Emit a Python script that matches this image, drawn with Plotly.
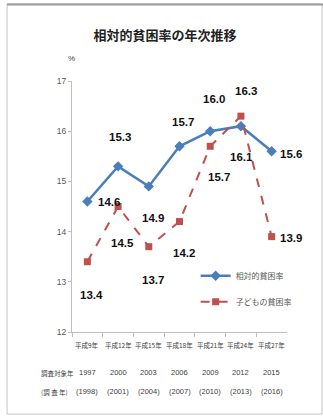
import plotly.graph_objects as go

# Survey years (Heisei era label, reference year, survey year)
era_labels = ["平成9年", "平成12年", "平成15年", "平成18年", "平成21年", "平成24年", "平成27年"]
ref_years = ["1997", "2000", "2003", "2006", "2009", "2012", "2015"]
survey_years = ["(1998)", "(2001)", "(2004)", "(2007)", "(2010)", "(2013)", "(2016)"]

# Poverty rates (%)
relative_rate = [14.6, 15.3, 14.9, 15.7, 16.0, 16.1, 15.6]
child_rate = [13.4, 14.5, 13.7, 14.2, 15.7, 16.3, 13.9]

BLUE = "#4A7EBB"
RED = "#C0504D"
NUM_FONT = "Liberation Sans, Arial, sans-serif"
JP_FONT = "Noto Sans CJK JP, sans-serif"

# Value-label offsets (px) relative to each marker: (xshift, yshift, xanchor)
rel_offsets = [(9, -1, "left"), (2, 29, "center"), (4, -32, "center"), (3, 24, "center"),
               (4, 32, "center"), (1, -31, "center"), (6, -3, "left")]
child_offsets = [(4, -33, "center"), (4, -36, "center"), (4, -33, "center"), (4, -31, "center"),
                 (9, -31, "center"), (5, 25, "center"), (6, -1, "left")]

x = list(range(len(era_labels)))

fig = go.Figure()
fig.add_trace(go.Scatter(
    x=x, y=relative_rate, name="相対的貧困率", mode="lines+markers",
    line=dict(color=BLUE, width=2.5),
    marker=dict(symbol="diamond", size=8, color=BLUE),
    legendgroup="a",
))
fig.add_trace(go.Scatter(
    x=x, y=child_rate, name="子どもの貧困率", mode="lines+markers",
    line=dict(color=RED, width=2, dash="dash"),
    marker=dict(symbol="square", size=7, color=RED),
    legendgroup="b",
))

annotations = []
for series, offsets in ((relative_rate, rel_offsets), (child_rate, child_offsets)):
    for i, (v, (dx, dy, anchor)) in enumerate(zip(series, offsets)):
        annotations.append(dict(
            x=i, y=v, xref="x", yref="y", text=f"<b>{v:.1f}</b>", showarrow=False,
            xshift=dx, yshift=dy, xanchor=anchor, yanchor="middle",
            font=dict(family=NUM_FONT, size=11.5, color="#111111"),
        ))

# Three-row category labels under the x axis
for i in x:
    annotations.append(dict(x=i, y=-0.052, xref="x", yref="paper", text=era_labels[i],
                            showarrow=False, yanchor="middle",
                            font=dict(family=JP_FONT, size=6.5, color="#404040")))
    annotations.append(dict(x=i, y=-0.163, xref="x", yref="paper", text=ref_years[i],
                            showarrow=False, yanchor="middle",
                            font=dict(family=NUM_FONT, size=7.5, color="#404040")))
    annotations.append(dict(x=i, y=-0.239, xref="x", yref="paper", text=survey_years[i],
                            showarrow=False, yanchor="middle",
                            font=dict(family=NUM_FONT, size=7.5, color="#404040")))
annotations.append(dict(x=-0.155, y=-0.163, xref="paper", yref="paper", text="調査対象年",
                        showarrow=False, yanchor="middle",
                        font=dict(family=JP_FONT, size=6.5, color="#404040")))
annotations.append(dict(x=-0.155, y=-0.239, xref="paper", yref="paper", text="(調 査 年)",
                        showarrow=False, yanchor="middle",
                        font=dict(family=JP_FONT, size=6.5, color="#404040")))
# Unit label above the y axis
annotations.append(dict(x=-0.03, y=1.115, xref="paper", yref="paper", text="%",
                        showarrow=False, font=dict(family=NUM_FONT, size=8, color="#404040")))

fig.update_layout(
    width=323, height=416,
    margin=dict(l=72, r=36, t=81, b=84),
    paper_bgcolor="white", plot_bgcolor="white",
    title=dict(text="<b>相対的貧困率の年次推移</b>", x=165 / 323, xanchor="center",
               y=1 - 35 / 416, yanchor="middle",
               font=dict(family=JP_FONT, size=13, color="#222222")),
    xaxis=dict(
        range=[-0.5, 6.5], tickmode="array", tickvals=[i + 0.5 for i in x[:-1]] + [-0.5],
        showticklabels=False, ticks="outside", ticklen=4, tickcolor="#bfbfbf",
        showline=True, linecolor="#bfbfbf", linewidth=1, showgrid=False, zeroline=False,
    ),
    yaxis=dict(
        range=[12, 17], tickvals=[12, 13, 14, 15, 16, 17], ticks="outside", ticklen=3,
        tickcolor="#bfbfbf", showline=True, linecolor="#bfbfbf", linewidth=1,
        showgrid=False, zeroline=False,
        tickfont=dict(family=NUM_FONT, size=8.5, color="#595959"),
    ),
    legend=dict(x=0.575, y=0.282, xanchor="left", yanchor="top", bgcolor="rgba(0,0,0,0)",
                font=dict(family=JP_FONT, size=8, color="#595959"),
                tracegroupgap=7, itemwidth=30),
    showlegend=True,
    annotations=annotations,
    shapes=[
        dict(type="rect", xref="paper", yref="paper", x0=-0.302, x1=1.163, y0=-0.327, y1=1.307,
             line=dict(color="#c4c4c4", width=1), layer="below"),
        dict(type="line", xref="paper", yref="paper", x0=-0.302, x1=1.17, y0=1.305, y1=1.305,
             line=dict(color="#9c9c9c", width=2)),
    ],
)

fig.write_html("out.html")
